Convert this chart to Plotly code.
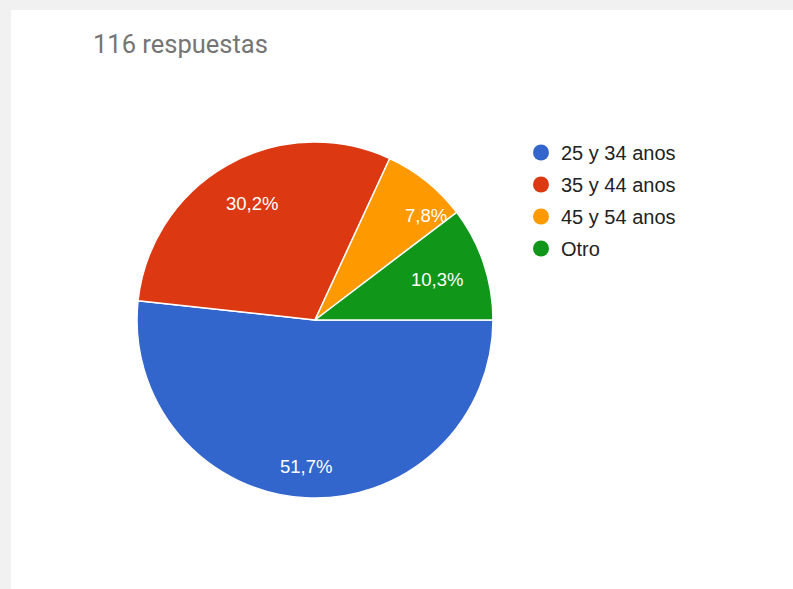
import math
import plotly.graph_objects as go

# Survey responses by age bracket
categories = ["25 y 34 anos", "35 y 44 anos", "45 y 54 anos", "Otro"]
counts = [60, 35, 9, 12]
colors = ["#3366cc", "#dc3912", "#ff9900", "#109618"]
total_label = "116 respuestas"

W, H = 793, 589
cx, cy, R = 315, 320, 178
start_angle = 90  # first slice begins at 3 o'clock, clockwise

# label placement: fraction of radius and pixel nudge per slice
label_radius = [0.82, 0.75, 0.80, 0.80]
label_nudge = [(-1, 1), (3, 0), (22, 6), (-13, 5)]

fig = go.Figure()

fig.add_trace(go.Pie(
    labels=categories,
    values=counts,
    sort=False,
    direction="clockwise",
    rotation=start_angle,
    marker=dict(colors=colors, line=dict(color="white", width=1.5)),
    textinfo="none",
    hoverinfo="label+value+percent",
    showlegend=False,
    domain=dict(x=[(cx - R) / W, (cx + R) / W], y=[(H - cy - R) / H, (H - cy + R) / H]),
))

# Circle-marker legend entries, one per category
for i, (name, col) in enumerate(zip(categories, colors)):
    fig.add_trace(go.Scatter(
        x=[None], y=[None], mode="markers", name=name,
        legendgroup=f"g{i}",
        marker=dict(symbol="circle", size=16, color=col),
        hoverinfo="skip",
    ))

# Percentage labels placed along each slice's middle angle
total = sum(counts)
annotations = []
acc = 0
for i, v in enumerate(counts):
    mid = start_angle + (acc + v / 2) / total * 360
    acc += v
    r = label_radius[i] * R
    px = cx + r * math.sin(math.radians(mid)) + label_nudge[i][0]
    py = cy - r * math.cos(math.radians(mid)) + label_nudge[i][1]
    pct = f"{v / total * 100:.1f}".replace(".", ",") + "%"
    annotations.append(dict(
        text=pct, xref="paper", yref="paper",
        x=px / W, y=1 - py / H, xanchor="center", yanchor="middle",
        showarrow=False,
        font=dict(family="Liberation Sans, Arial, sans-serif", size=18.5, color="white"),
    ))

annotations.append(dict(
    text=total_label, xref="paper", yref="paper",
    x=91 / W, y=1 - 44 / H, xanchor="left", yanchor="middle",
    showarrow=False,
    font=dict(family="Roboto, Arial, sans-serif", size=25.5, color="#757575"),
))

fig.update_layout(
    width=W, height=H,
    margin=dict(l=0, r=0, t=0, b=0),
    paper_bgcolor="#f1f1f1",
    plot_bgcolor="rgba(0,0,0,0)",
    xaxis=dict(visible=False),
    yaxis=dict(visible=False),
    showlegend=True,
    legend=dict(
        x=521 / W, xanchor="left",
        y=1 - 133 / H, yanchor="top",
        font=dict(family="Liberation Sans, Arial, sans-serif", size=20, color="#222222"),
        itemsizing="trace",
        tracegroupgap=3,
        bgcolor="rgba(0,0,0,0)",
    ),
    shapes=[dict(
        type="rect", xref="paper", yref="paper",
        x0=11 / W, x1=1, y0=0, y1=1 - 10 / H,
        fillcolor="white", line=dict(width=0), layer="below",
    )],
    annotations=annotations,
)

fig.write_html("out.html")
